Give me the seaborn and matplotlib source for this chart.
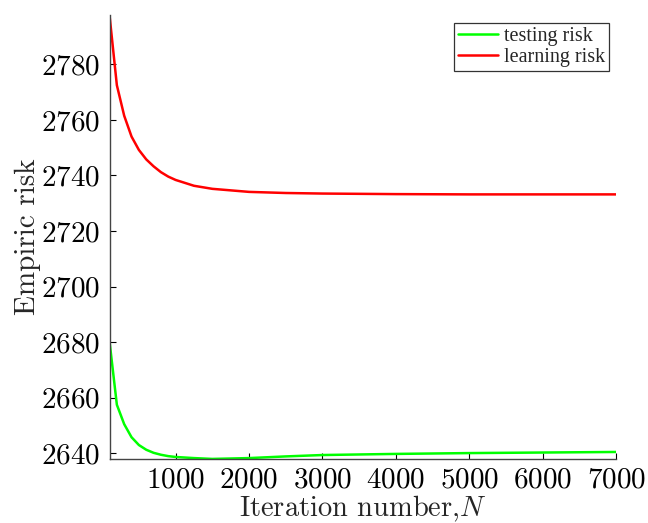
import matplotlib
matplotlib.use("Agg")
import matplotlib.pyplot as plt
import seaborn as sns
import pandas as pd

iterations = [100, 200, 300, 400, 500, 600, 700, 800, 900, 1000, 1250, 1500,
              2000, 2500, 3000, 3500, 4000, 5000, 6000, 7000]
testing_risk = [2680.3, 2657.5, 2650.5, 2645.8, 2643.0, 2641.3, 2640.2, 2639.5,
                2639.0, 2638.7, 2638.3, 2638.0, 2638.3, 2638.9, 2639.4, 2639.6,
                2639.8, 2640.1, 2640.3, 2640.5]
learning_risk = [2797.7, 2772.5, 2761.5, 2754.0, 2749.2, 2745.8, 2743.3, 2741.2,
                 2739.6, 2738.4, 2736.3, 2735.2, 2734.1, 2733.7, 2733.5, 2733.4,
                 2733.3, 2733.2, 2733.2, 2733.2]
series_names = ["testing risk", "learning risk"]
series_colors = ["#00ff00", "#ff0000"]
x_ticks = [1000, 2000, 3000, 4000, 5000, 6000, 7000]
y_ticks = [2640, 2660, 2680, 2700, 2720, 2740, 2760, 2780]

df = pd.concat([
    pd.DataFrame({"N": iterations, "risk": testing_risk, "series": series_names[0]}),
    pd.DataFrame({"N": iterations, "risk": learning_risk, "series": series_names[1]}),
])

sns.set_style("ticks")
plt.rcParams["font.family"] = ["cmr10", "DejaVu Serif"]
plt.rcParams["mathtext.fontset"] = "cm"
plt.rcParams["axes.formatter.use_mathtext"] = True

fig = plt.figure(figsize=(6.48, 5.23), dpi=100)
ax = fig.add_axes([0.169, 0.122, 0.782, 0.849])

sns.lineplot(data=df, x="N", y="risk", hue="series", hue_order=series_names,
             palette=series_colors, linewidth=1.8, ax=ax, sort=False)

ax.set_xlim(100, 7000)
ax.set_ylim(2637.9, 2797.7)
ax.set_xticks(x_ticks)
ax.set_yticks(y_ticks)
ax.tick_params(direction="in", length=4, width=0.8, labelsize=21, colors="black")
ax.tick_params(axis="x", pad=6)
ax.tick_params(axis="y", pad=7)
for s in ["top", "right"]:
    ax.spines[s].set_visible(False)
for s in ["left", "bottom"]:
    ax.spines[s].set_color("#444444")
    ax.spines[s].set_linewidth(1.0)

ax.set_xlabel(r"Iteration number,$N$", fontsize=20.5, labelpad=0)
ax.set_ylabel("Empiric risk", fontsize=21, labelpad=0)

leg = ax.legend(loc="upper right", bbox_to_anchor=(0.994, 0.992),
                prop={"family": ["Liberation Serif", "DejaVu Serif"], "size": 14.5},
                frameon=True, fancybox=False, edgecolor="black",
                handlelength=2.0, borderpad=0.2, labelspacing=0.12,
                handletextpad=0.3, borderaxespad=0.2)
leg.get_frame().set_linewidth(0.9)

fig.savefig("out.png", dpi=100)
